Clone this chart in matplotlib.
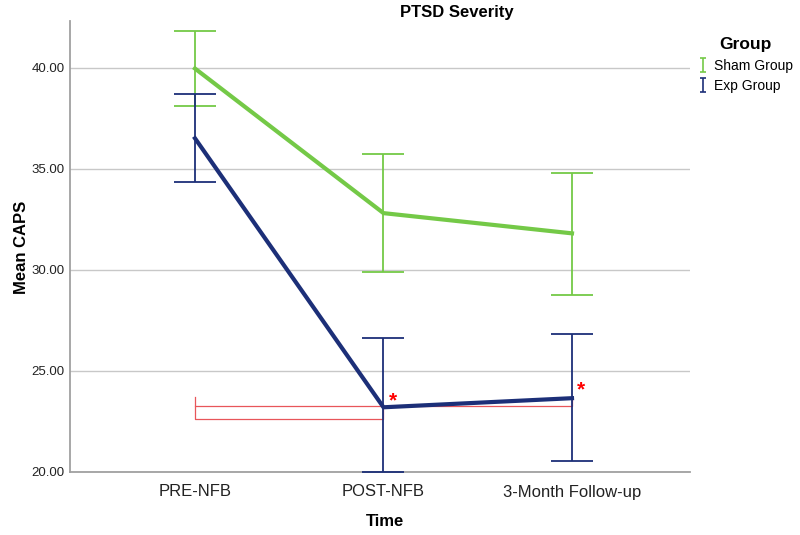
import matplotlib
matplotlib.use("Agg")
import matplotlib.pyplot as plt
import numpy as np

plt.rcParams['font.family'] = ['Liberation Sans', 'DejaVu Sans']

# data
times = ['PRE-NFB', 'POST-NFB', '3-Month Follow-up']
sham_mean = [39.95, 32.8, 31.8]
sham_low = [38.1, 29.9, 28.75]
sham_high = [41.8, 35.7, 34.8]
exp_mean = [36.5, 23.2, 23.65]
exp_low = [34.35, 20.0, 20.55]
exp_high = [38.7, 26.65, 26.8]
yticks = [20, 25, 30, 35, 40]

green = '#74c947'
navy = '#1c2f78'
red = '#e8565a'

fig = plt.figure(figsize=(8, 5.35), dpi=100)
ax = fig.add_axes([70 / 800, 1 - 472 / 535, 620 / 800, (472 - 21) / 535])

x = np.arange(len(times))

def draw(mean, low, high, color, label):
    mean = np.array(mean)
    err = [mean - np.array(low), np.array(high) - mean]
    ax.plot(x, mean, color=color, lw=3, zorder=4)
    ax.errorbar(x, mean, yerr=err, fmt='none', ecolor=color, elinewidth=1.3,
                capsize=15, capthick=1.3, zorder=3)
    return ax.errorbar([np.nan], [np.nan], yerr=[1], fmt='none', ecolor=color,
                       elinewidth=1.2, capsize=2.5, capthick=1.2, label=label)

h1 = draw(sham_mean, sham_low, sham_high, green, 'Sham Group')
h2 = draw(exp_mean, exp_low, exp_high, navy, 'Exp Group')

# significance brackets
ax.plot([0, 0, 2, 2], [23.69, 23.25, 23.25, 23.7], color=red, lw=0.9, zorder=2)
ax.plot([0, 0, 1, 1], [23.25, 22.62, 22.62, 23.25], color=red, lw=0.9, zorder=2)
ax.text(1.05, 23.5, '*', color='red', fontsize=15, fontweight='bold', ha='center', va='center')
ax.text(2.05, 24.05, '*', color='red', fontsize=15, fontweight='bold', ha='center', va='center')

ax.set_xlim(-0.663, 2.626)
ax.set_ylim(20, 42.3)
ax.set_xticks(x)
ax.set_xticklabels(times, fontsize=12, color='#222222')
ax.set_yticks(yticks)
ax.set_yticklabels(['%.2f' % v for v in yticks], fontsize=9.5, color='#222222')
ax.tick_params(length=0, pad=9)
ax.tick_params(axis='y', pad=4)
ax.grid(axis='y', color='#c8c8c8', lw=1)
ax.set_axisbelow(True)
for s in ['top', 'right']:
    ax.spines[s].set_visible(False)
for s in ['left', 'bottom']:
    ax.spines[s].set_color('#a0a0a0')
    ax.spines[s].set_linewidth(1.3)

fig.text(457 / 800, 1 - 12 / 535, 'PTSD Severity', ha='center', va='center',
         fontsize=12, fontweight='bold')
fig.text(385 / 800, 1 - 522 / 535, 'Time', ha='center', va='center',
         fontsize=12, fontweight='bold')
fig.text(22 / 800, 1 - 247 / 535, 'Mean CAPS', ha='center', va='center',
         rotation=90, fontsize=12, fontweight='bold')

leg = fig.legend(handles=[h1, h2], loc='upper left', bbox_to_anchor=(686 / 800, 1 - 25 / 535),
                 frameon=False, title='Group', fontsize=10, handlelength=0.6,
                 handletextpad=0.5, labelspacing=0.45, alignment='center')
leg.get_title().set_fontweight('bold')
leg.get_title().set_fontsize(12.5)

fig.savefig('out.png', dpi=100)
